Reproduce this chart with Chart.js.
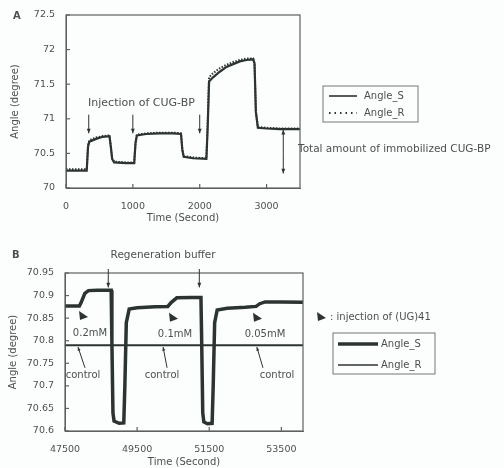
<!DOCTYPE html>
<html>
<head>
<meta charset="utf-8">
<script src="https://cdn.jsdelivr.net/npm/chart.js@4.4.0/dist/chart.umd.min.js"></script>
<style>
body { margin: 0; background: #fcfdfd; }
#wrapA { position: absolute; left: 0; top: 0; width: 504px; height: 230px; }
#wrapB { position: absolute; left: 0; top: 230px; width: 504px; height: 238px; }
</style>
</head>
<body>
<div id="wrapA"><canvas id="chartA"></canvas></div>
<div id="wrapB"><canvas id="chartB"></canvas></div>
<script>
// panel A : CUG-BP immobilization
let timeA = [0, 310, 330, 350, 450, 550, 650, 670, 690, 720, 900, 1020, 1040, 1060, 1200, 1400, 1600, 1720, 1740, 1760, 1900, 2100, 2120, 2140, 2200, 2300, 2400, 2500, 2600, 2700, 2800, 2820, 2840, 2870, 3000, 3200, 3500];
let angleS_A = [70.25, 70.25, 70.6, 70.67, 70.71, 70.74, 70.75, 70.6, 70.42, 70.37, 70.36, 70.36, 70.65, 70.76, 70.78, 70.79, 70.79, 70.78, 70.55, 70.45, 70.43, 70.42, 70.9, 71.54, 71.6, 71.68, 71.75, 71.79, 71.83, 71.85, 71.86, 71.8, 71.1, 70.87, 70.86, 70.85, 70.85];
let angleR_A = [70.27, 70.27, 70.62, 70.69, 70.73, 70.75, 70.76, 70.6, 70.43, 70.38, 70.37, 70.37, 70.66, 70.77, 70.79, 70.8, 70.8, 70.79, 70.56, 70.46, 70.44, 70.43, 70.95, 71.6, 71.66, 71.73, 71.78, 71.82, 71.85, 71.87, 71.87, 71.8, 71.1, 70.88, 70.87, 70.86, 70.86];
let xTicksA = [0, 1000, 2000, 3000];
let yTicksA = [70, 70.5, 71, 71.5, 72, 72.5];

// panel B : regeneration
let timeB = [47500, 47900, 47950, 48050, 48150, 48400, 48780, 48800, 48830, 48860, 49000, 49130, 49160, 49200, 49280, 49500, 50000, 50350, 50450, 50600, 51000, 51270, 51290, 51320, 51350, 51450, 51580, 51610, 51650, 51720, 52000, 52500, 52800, 52900, 53050, 53500, 54100];
let angleS_B = [70.877, 70.877, 70.885, 70.905, 70.911, 70.912, 70.912, 70.8, 70.64, 70.622, 70.617, 70.618, 70.7, 70.84, 70.87, 70.873, 70.875, 70.876, 70.885, 70.895, 70.896, 70.896, 70.8, 70.64, 70.62, 70.616, 70.617, 70.7, 70.84, 70.868, 70.872, 70.874, 70.876, 70.882, 70.886, 70.886, 70.885];
let timeR_B = [47500, 54100];
let angleR_B = [70.79, 70.79];
let xTicksB = [47500, 49500, 51500, 53500];
let yTicksB = [70.6, 70.65, 70.7, 70.75, 70.8, 70.85, 70.9, 70.95];
let yTickLabelsB = ["70.6", "70.65", "70.7", "70.75", "70.8", "70.85", "70.9", "70.95"];

const INK = '#2c3430';
const TXT = '#4b514d';
const FONT = '"DejaVu Sans", Verdana, sans-serif';

function pts(xs, ys) {
  let out = [];
  for (let i = 0; i < xs.length; i++) out.push({x: xs[i], y: ys[i]});
  return out;
}

function arrow(ctx, x1, y1, x2, y2, head) {
  ctx.beginPath();
  ctx.moveTo(x1, y1);
  ctx.lineTo(x2, y2);
  ctx.stroke();
  let a = Math.atan2(y2 - y1, x2 - x1);
  ctx.beginPath();
  ctx.moveTo(x2, y2);
  ctx.lineTo(x2 - head * Math.cos(a - 0.4), y2 - head * Math.sin(a - 0.4));
  ctx.lineTo(x2 - head * Math.cos(a + 0.4), y2 - head * Math.sin(a + 0.4));
  ctx.closePath();
  ctx.fill();
}

function triangle(ctx, x, y) {
  ctx.beginPath();
  ctx.moveTo(x - 4, y - 5);
  ctx.lineTo(x + 5, y + 1);
  ctx.lineTo(x - 3, y + 4);
  ctx.closePath();
  ctx.fill();
}

function frame(chart) {
  let ctx = chart.ctx, a = chart.chartArea;
  ctx.save();
  ctx.strokeStyle = '#5d625f';
  ctx.lineWidth = 1.2;
  ctx.strokeRect(a.left, a.top, a.right - a.left, a.bottom - a.top);
  chart.scales.x.ticks.forEach(t => {
    let px = chart.scales.x.getPixelForValue(t.value);
    ctx.beginPath(); ctx.moveTo(px, a.bottom); ctx.lineTo(px, a.bottom - 4); ctx.stroke();
  });
  chart.scales.y.ticks.forEach(t => {
    let py = chart.scales.y.getPixelForValue(t.value);
    ctx.beginPath(); ctx.moveTo(a.left, py); ctx.lineTo(a.left + 4, py); ctx.stroke();
  });
  ctx.restore();
}

const panelA = {
  id: 'panelA',
  afterDraw(chart) {
    frame(chart);
    let ctx = chart.ctx, a = chart.chartArea;
    let X = v => chart.scales.x.getPixelForValue(v);
    let Y = v => chart.scales.y.getPixelForValue(v);
    ctx.save();
    ctx.fillStyle = TXT; ctx.strokeStyle = INK; ctx.lineWidth = 1;
    ctx.font = 'bold 10px ' + FONT;
    ctx.textBaseline = 'middle';
    ctx.fillText('A', 13, 16);
    ctx.font = '11px ' + FONT;
    ctx.fillText('Injection of CUG-BP', X(330), Y(71.23));
    ctx.fillStyle = INK;
    [340, 1000, 2000].forEach(t => arrow(ctx, X(t), Y(71.06), X(t), Y(70.79), 5));
    // double arrow: total amount
    arrow(ctx, X(3250), Y(70.5), X(3250), Y(70.84), 5);
    arrow(ctx, X(3250), Y(70.5), X(3250), Y(70.21), 5);
    ctx.fillStyle = TXT;
    ctx.font = '10.5px ' + FONT;
    ctx.fillText('Total amount of immobilized CUG-BP', a.right - 2, Y(70.56));
    // legend
    let lx = a.right + 23, ly = 86;
    ctx.strokeStyle = '#777'; ctx.lineWidth = 1;
    ctx.strokeRect(lx, ly, 95, 36);
    ctx.strokeStyle = INK; ctx.lineWidth = 1.6;
    ctx.beginPath(); ctx.moveTo(lx + 6, ly + 10); ctx.lineTo(lx + 34, ly + 10); ctx.stroke();
    ctx.setLineDash([1.5, 4]); ctx.lineWidth = 2;
    ctx.beginPath(); ctx.moveTo(lx + 6, ly + 27); ctx.lineTo(lx + 34, ly + 27); ctx.stroke();
    ctx.setLineDash([]);
    ctx.font = '10px ' + FONT;
    ctx.fillText(chart.data.datasets[0].label, lx + 41, ly + 10);
    ctx.fillText(chart.data.datasets[1].label, lx + 41, ly + 27);
    ctx.restore();
  }
};

const panelB = {
  id: 'panelB',
  afterDraw(chart) {
    frame(chart);
    let ctx = chart.ctx, a = chart.chartArea;
    let X = v => chart.scales.x.getPixelForValue(v);
    let Y = v => chart.scales.y.getPixelForValue(v);
    ctx.save();
    ctx.fillStyle = TXT; ctx.strokeStyle = INK; ctx.lineWidth = 1;
    ctx.textBaseline = 'middle';
    ctx.font = 'bold 10px ' + FONT;
    ctx.fillText('B', 12, 25);
    ctx.font = '10.5px ' + FONT;
    ctx.textAlign = 'center';
    ctx.fillText('Regeneration buffer', X(50220), a.top - 18);
    ctx.fillStyle = INK;
    [48700, 51225].forEach(t => arrow(ctx, X(t), a.top - 4, X(t), Y(70.918), 5));
    // injection markers
    [[48000, 70.855], [50495, 70.851], [52824, 70.851]].forEach(p => triangle(ctx, X(p[0]), Y(p[1])));
    ctx.fillStyle = TXT;
    ctx.font = '10px ' + FONT;
    ctx.fillText('0.2mM', X(48193), Y(70.817));
    ctx.fillText('0.1mM', X(50550), Y(70.815));
    ctx.fillText('0.05mM', X(53046), Y(70.815));
    ctx.fillText('control', X(48000), Y(70.724));
    ctx.fillText('control', X(50190), Y(70.724));
    ctx.fillText('control', X(53380), Y(70.724));
    ctx.fillStyle = INK;
    arrow(ctx, X(48055), Y(70.74), X(47860), Y(70.786), 4);
    arrow(ctx, X(50330), Y(70.74), X(50220), Y(70.786), 4);
    arrow(ctx, X(52990), Y(70.74), X(52820), Y(70.786), 4);
    // legend
    ctx.textAlign = 'left';
    triangle(ctx, a.right + 18, 87);
    ctx.fillStyle = TXT;
    ctx.font = '10px ' + FONT;
    ctx.fillText(': injection of (UG)41', a.right + 27, 87);
    let lx = a.right + 30, ly = 103;
    ctx.strokeStyle = '#777'; ctx.lineWidth = 1;
    ctx.strokeRect(lx, ly, 102, 41);
    ctx.strokeStyle = INK;
    ctx.lineWidth = 3.5;
    ctx.beginPath(); ctx.moveTo(lx + 5, ly + 11); ctx.lineTo(lx + 45, ly + 11); ctx.stroke();
    ctx.lineWidth = 1.5;
    ctx.beginPath(); ctx.moveTo(lx + 5, ly + 32); ctx.lineTo(lx + 45, ly + 32); ctx.stroke();
    ctx.fillText(chart.data.datasets[0].label, lx + 48, ly + 11);
    ctx.fillText(chart.data.datasets[1].label, lx + 48, ly + 32);
    ctx.restore();
  }
};

function axes(xmin, xmax, xt, ymin, ymax, yt, ylabels, yWidth, xHeight) {
  let tickFont = {family: FONT, size: 9.5};
  return {
    x: {
      type: 'linear', min: xmin, max: xmax,
      afterBuildTicks: s => { s.ticks = xt.map(v => ({value: v})); },
      afterFit: s => { s.height = xHeight; },
      grid: {display: false},
      border: {display: true, color: '#5d625f'},
      ticks: {color: TXT, font: tickFont, padding: 5, maxRotation: 0,
        callback: v => String(v)},
      title: {display: true, text: 'Time (Second)', color: TXT, font: {family: FONT, size: 10}, padding: 0}
    },
    y: {
      type: 'linear', min: ymin, max: ymax,
      afterBuildTicks: s => { s.ticks = yt.map(v => ({value: v})); },
      afterFit: s => { s.width = yWidth; },
      grid: {display: false},
      border: {display: true, color: '#5d625f'},
      ticks: {color: TXT, font: tickFont, padding: 3,
        callback: (v, i) => ylabels ? ylabels[i] : String(v)},
      title: {display: true, text: 'Angle (degree)', color: TXT, font: {family: FONT, size: 10}, padding: 0}
    }
  };
}

new Chart(document.getElementById('chartA'), {
  type: 'scatter',
  data: {
    datasets: [
      {label: 'Angle_S', data: pts(timeA, angleS_A), showLine: true, borderColor: INK, borderWidth: 2.2, pointRadius: 0, tension: 0},
      {label: 'Angle_R', data: pts(timeA, angleR_A), showLine: true, borderColor: INK, borderWidth: 2, borderDash: [1.5, 1.5], pointRadius: 0, tension: 0}
    ]
  },
  options: {
    responsive: true, maintainAspectRatio: false, animation: false,
    layout: {padding: {left: 9, top: 15, right: 204, bottom: 6}},
    plugins: {legend: {display: false}, tooltip: {enabled: false}},
    scales: axes(0, 3500, xTicksA, 70, 72.5, yTicksA, null, 57, 36)
  },
  plugins: [panelA]
});

new Chart(document.getElementById('chartB'), {
  type: 'scatter',
  data: {
    datasets: [
      {label: 'Angle_S', data: pts(timeB, angleS_B), showLine: true, borderColor: INK, borderWidth: 3.5, pointRadius: 0, tension: 0},
      {label: 'Angle_R', data: pts(timeR_B, angleR_B), showLine: true, borderColor: INK, borderWidth: 1.8, pointRadius: 0, tension: 0}
    ]
  },
  options: {
    responsive: true, maintainAspectRatio: false, animation: false,
    layout: {padding: {left: 7, top: 43, right: 201, bottom: 0}},
    plugins: {legend: {display: false}, tooltip: {enabled: false}},
    scales: axes(47500, 54100, xTicksB, 70.6, 70.95, yTicksB, yTickLabelsB, 58, 37)
  },
  plugins: [panelB]
});
</script>
</body>
</html>
